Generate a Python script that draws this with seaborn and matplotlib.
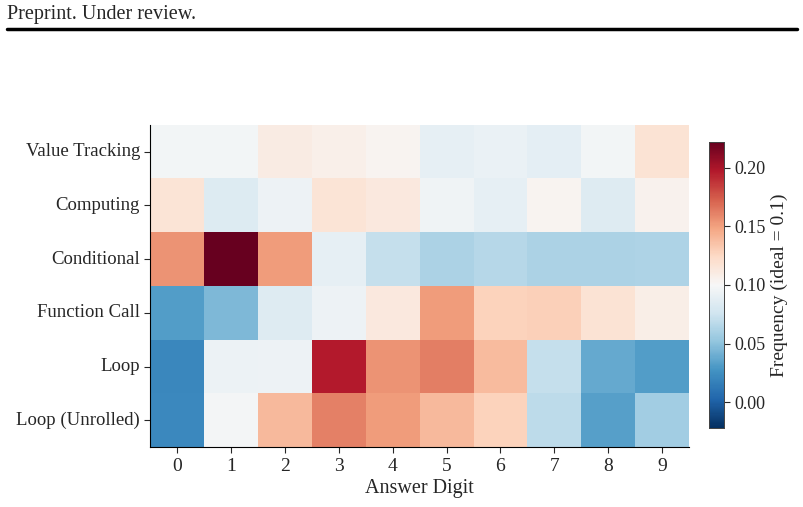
import numpy as np
import pandas as pd
import matplotlib
matplotlib.use('Agg')
import matplotlib.pyplot as plt
import seaborn as sns

sns.set_style('white')
plt.rcParams['font.family'] = ['Liberation Serif', 'DejaVu Serif']

# Data
categories = ['Value Tracking', 'Computing', 'Conditional', 'Function Call', 'Loop', 'Loop (Unrolled)']
digits = ['0', '1', '2', '3', '4', '5', '6', '7', '8', '9']
value_tracking = [0.097, 0.097, 0.110, 0.107, 0.103, 0.089, 0.092, 0.088, 0.097, 0.118]
computing = [0.117, 0.083, 0.094, 0.117, 0.113, 0.095, 0.089, 0.103, 0.084, 0.105]
conditional = [0.155, 0.222, 0.152, 0.089, 0.071, 0.061, 0.065, 0.061, 0.061, 0.062]
function_call = [0.032, 0.045, 0.084, 0.094, 0.113, 0.152, 0.128, 0.129, 0.118, 0.108]
loop = [0.020, 0.093, 0.094, 0.197, 0.155, 0.162, 0.139, 0.071, 0.038, 0.032]
loop_unrolled = [0.021, 0.098, 0.140, 0.161, 0.152, 0.140, 0.128, 0.068, 0.033, 0.058]

df = pd.DataFrame([value_tracking, computing, conditional, function_call, loop, loop_unrolled],
                  index=categories, columns=digits)

ideal = 0.1
span = np.abs(df.values - ideal).max()

fig = plt.figure(figsize=(8.04, 5.07), dpi=100)

# page header
fig.text(0.009, 0.972, 'Preprint. Under review.', fontsize=14.5, ha='left', va='center')
fig.add_artist(plt.Line2D([0.009, 0.991], [0.943, 0.943], color='black', lw=2.5))

ax = fig.add_axes([0.187, 0.118, 0.670, 0.636])
cax = fig.add_axes([0.882, 0.156, 0.018, 0.564])

sns.heatmap(df, ax=ax, cbar_ax=cax, cmap='RdBu_r', center=ideal,
            vmin=ideal - span, vmax=ideal + span, linewidths=0)

ax.set_xlabel('Answer Digit', fontsize=14.5, labelpad=3)
ax.set_ylabel('')
ax.tick_params(axis='x', labelsize=14, length=4, width=0.8, bottom=True, rotation=0)
ax.tick_params(axis='y', labelsize=13.5, length=4, width=0.8, left=True, rotation=0)
for s in ['left', 'bottom']:
    ax.spines[s].set_visible(True)
    ax.spines[s].set_color('black')
    ax.spines[s].set_linewidth(0.8)

cax.set_ylabel('Frequency (ideal = 0.1)', fontsize=14)
cax.set_yticks([0.0, 0.05, 0.10, 0.15, 0.20])
cax.set_yticklabels(['0.00', '0.05', '0.10', '0.15', '0.20'])
cax.tick_params(labelsize=13, length=4, width=0.8, right=True)
for s in cax.spines.values():
    s.set_visible(True)
    s.set_linewidth(0.6)
    s.set_color('#444444')

fig.savefig('out.png', dpi=100)
